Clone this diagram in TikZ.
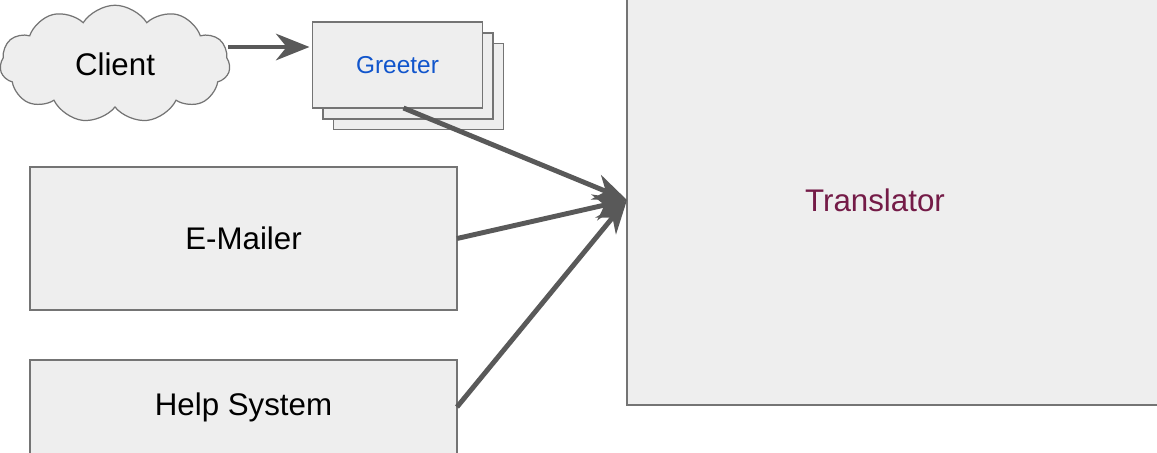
\documentclass[tikz,border=0pt]{standalone}
\usepackage{fontspec}
\setmainfont{Liberation Sans}
\usepackage{tikz}
\definecolor{kastengrau}{HTML}{EEEEEE}
\definecolor{rahmengrau}{HTML}{747474}
\definecolor{pfeilgrau}{HTML}{595959}
\definecolor{greeterblau}{HTML}{1155CC}
\definecolor{translatorrot}{HTML}{741B47}
\usetikzlibrary{arrows.meta, shapes.symbols, calc}

\begin{document}
\begin{tikzpicture}[x=0.2mm, y=-0.2mm,
			kasten/.style={draw=rahmengrau, fill=kastengrau, line width=0.7pt, inner sep=0pt, outer sep=0pt},
			wolke/.style={draw=rahmengrau, fill=kastengrau, line width=0.7pt, cloud, cloud puffs=11, cloud puff arc=115, aspect=2, inner sep=0pt, minimum width=46mm, minimum height=23.5mm},
			pfeil/.style={->, draw=pfeilgrau, line width=2.8pt},
			>={Stealth[length=19pt, width=15pt, inset=6pt]},   %Voreinstellung für Pfeilspitzen
			font=\fontsize{17.8}{20}\selectfont]
			%Bildbereich
			\clip (0,0) rectangle (1157,452);
			%Kästen zeichnen
			\node[kasten, minimum width=114.6mm, minimum height=82mm] (trans) at (913.5,200) {};
			\node[text=translatorrot] (translabel) at (875,200) {Translator};
			\node[kasten, minimum width=85.4mm, minimum height=28.6mm] (mailer) at (243.5,238.5) {E-Mailer};
			\node[kasten, minimum width=85.4mm, minimum height=18.8mm] (hilfe) at (243.5,407) {Help System};
			%Greeter als Stapel
			\node[kasten, minimum width=34mm, minimum height=17.2mm] (greetC) at (418.5,86.5) {};
			\node[kasten, minimum width=34mm, minimum height=17.2mm] (greetB) at (408,76) {};
			\node[kasten, minimum width=34mm, minimum height=17.2mm, text=greeterblau, font=\fontsize{13.9}{16}\selectfont] (greet) at (397.5,65) {Greeter};
			%Client
			\node[wolke] (client) at (115,64) {Client};
			%Pfeile zeichnen
			\draw[pfeil] ($(client)+(113,-17)$) -- ($(greet.west)+(-3,-18)$);
			\draw[pfeil] ($(greet.south)+(6,0)$) -- (trans.west);
			\draw[pfeil] (mailer.east) -- (trans.west);
			\draw[pfeil] (hilfe.east) -- (trans.west);
		\end{tikzpicture}
\end{document}
